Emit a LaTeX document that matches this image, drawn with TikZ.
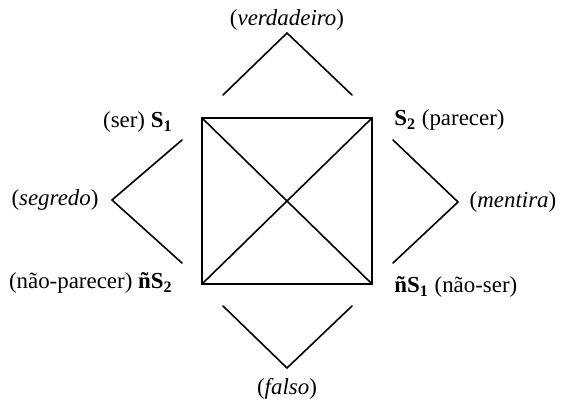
\documentclass[tikz,border=0pt]{standalone}
\usepackage{fontspec}
\setmainfont{Liberation Serif}
\usepackage{tikz}
\usetikzlibrary{positioning,calc}

\begin{document}
\begin{tikzpicture}[
  x=0.01764cm, y=-0.01764cm,
  font=\fontsize{11.5}{14}\selectfont,
  lbl/.style={inner sep=1pt},
  ln/.style={line width=0.8pt,line cap=round}
]
\useasboundingbox (0,0) rectangle (567,401);
% square corners
\coordinate (tl) at (202,118);
\coordinate (tr) at (372,118);
\coordinate (br) at (372,284);
\coordinate (bl) at (202,284);
\draw[ln] (tl) -- (tr) -- (br) -- (bl) -- cycle;
\draw[ln] (tl) -- (br);
\draw[ln] (tr) -- (bl);
% the four wedges
\coordinate (t1) at (223,95);  \coordinate (ta) at (287,33);  \coordinate (t2) at (352,95);
\coordinate (b1) at (223,306); \coordinate (ba) at (287,368); \coordinate (b2) at (352,306);
\coordinate (l1) at (182,140); \coordinate (la) at (112,200); \coordinate (l2) at (182,263);
\coordinate (r1) at (393,140); \coordinate (ra) at (458,202); \coordinate (r2) at (393,263);
\draw[ln] (t1) -- (ta) -- (t2);
\draw[ln] (b1) -- (ba) -- (b2);
\draw[ln] (l1) -- (la) -- (l2);
\draw[ln] (r1) -- (ra) -- (r2);
% labels
\node[lbl] (ver) at (287,20) {(\textit{verdadeiro})};
\node[lbl] (fal) at (287,389) {(\textit{falso})};
\node[lbl] (seg) at (55,200) {(\textit{segredo})};
\node[lbl] (men) at (513,202) {(\textit{mentira})};
\node[lbl,anchor=east] (s1) at (175,122) {(ser) \textbf{S\textsubscript{1}}};
\node[lbl,anchor=west] (s2) at (392,120) {\textbf{S\textsubscript{2}} (parecer)};
\node[lbl,anchor=east] (ns2) at (175,283) {(não-parecer) \textbf{ñS\textsubscript{2}}};
\node[lbl,anchor=west] (ns1) at (392,287) {\textbf{ñS\textsubscript{1}} (não-ser)};
\end{tikzpicture}
\end{document}
